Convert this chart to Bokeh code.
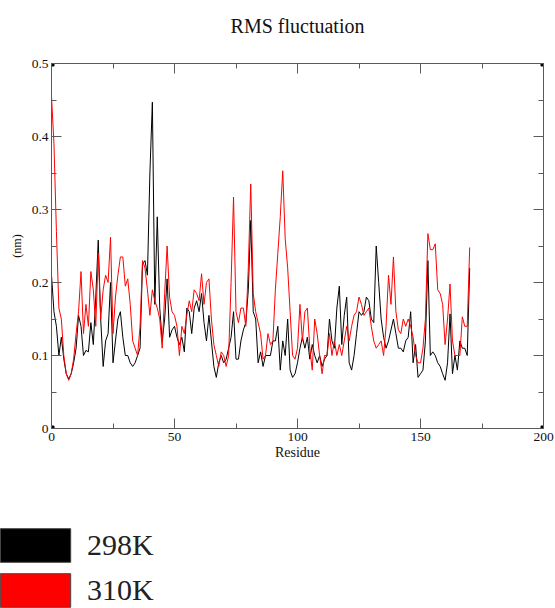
from bokeh.plotting import figure
from bokeh.layouts import column
from bokeh.models import (Range1d, LinearAxis, FixedTicker, Legend, LegendItem,
                          CustomJSTickFormatter)
from bokeh.embed import file_html
from bokeh.resources import INLINE

# ---------------- data ----------------
residue = list(range(0, 171))

rmsf_298K = [
    0.21, 0.16, 0.14, 0.10, 0.125, 0.095, 0.075, 0.068, 0.075, 0.09,
    0.11, 0.155, 0.14, 0.10, 0.107, 0.105, 0.145, 0.115, 0.18, 0.258,
    0.15, 0.085, 0.12, 0.13, 0.20, 0.09, 0.12, 0.15, 0.16, 0.125,
    0.10, 0.10, 0.09, 0.085, 0.09, 0.10, 0.11, 0.225, 0.23, 0.21,
    0.35, 0.447, 0.17, 0.29, 0.165, 0.12, 0.15, 0.205, 0.125, 0.135,
    0.14, 0.125, 0.115, 0.125, 0.105, 0.165, 0.16, 0.13, 0.165, 0.175,
    0.16, 0.185, 0.145, 0.12, 0.155, 0.12, 0.085, 0.07, 0.09, 0.10,
    0.09, 0.095, 0.11, 0.125, 0.16, 0.095, 0.095, 0.12, 0.135, 0.145,
    0.19, 0.285, 0.16, 0.15, 0.09, 0.105, 0.085, 0.10, 0.10, 0.10,
    0.12, 0.12, 0.14, 0.08, 0.12, 0.10, 0.15, 0.08, 0.07, 0.075,
    0.09, 0.11, 0.125, 0.11, 0.125, 0.095, 0.115, 0.10, 0.09, 0.10,
    0.085, 0.095, 0.10, 0.15, 0.12, 0.11, 0.165, 0.195, 0.115, 0.155,
    0.18, 0.09, 0.08, 0.10, 0.13, 0.16, 0.155, 0.16, 0.18, 0.175,
    0.15, 0.145, 0.25, 0.20, 0.15, 0.125, 0.11, 0.12, 0.135, 0.15,
    0.13, 0.11, 0.11, 0.105, 0.12, 0.125, 0.16, 0.09, 0.115, 0.07,
    0.075, 0.08, 0.12, 0.23, 0.10, 0.105, 0.10, 0.09, 0.085, 0.075,
    0.066, 0.09, 0.157, 0.075, 0.10, 0.08, 0.12, 0.11, 0.11, 0.10,
    0.22,
]

rmsf_310K = [
    0.455, 0.39, 0.27, 0.165, 0.15, 0.10, 0.075, 0.066, 0.075, 0.095,
    0.13, 0.16, 0.215, 0.13, 0.17, 0.14, 0.215, 0.19, 0.14, 0.24,
    0.15, 0.19, 0.21, 0.20, 0.262, 0.13, 0.18, 0.21, 0.235, 0.235,
    0.195, 0.205, 0.17, 0.12, 0.11, 0.10, 0.14, 0.23, 0.22, 0.19,
    0.155, 0.19, 0.175, 0.165, 0.15, 0.11, 0.185, 0.25, 0.18, 0.16,
    0.155, 0.14, 0.10, 0.14, 0.13, 0.155, 0.175, 0.16, 0.19, 0.185,
    0.175, 0.212, 0.17, 0.20, 0.205, 0.15, 0.115, 0.10, 0.085, 0.105,
    0.10, 0.085, 0.10, 0.20, 0.317, 0.16, 0.145, 0.165, 0.165, 0.14,
    0.22, 0.335, 0.185, 0.16, 0.145, 0.13, 0.095, 0.10, 0.13, 0.115,
    0.12, 0.19, 0.24, 0.29, 0.353, 0.26, 0.22, 0.16, 0.10, 0.095,
    0.11, 0.17, 0.12, 0.16, 0.165, 0.11, 0.08, 0.15, 0.13, 0.10,
    0.075, 0.10, 0.10, 0.13, 0.10, 0.12, 0.10, 0.115, 0.10, 0.12,
    0.14, 0.12, 0.14, 0.155, 0.16, 0.18, 0.17, 0.155, 0.16, 0.165,
    0.14, 0.12, 0.11, 0.115, 0.12, 0.10, 0.14, 0.21, 0.17, 0.235,
    0.16, 0.135, 0.13, 0.15, 0.14, 0.15, 0.14, 0.125, 0.10, 0.09,
    0.09, 0.11, 0.15, 0.267, 0.245, 0.245, 0.253, 0.19, 0.185, 0.17,
    0.115, 0.15, 0.198, 0.12, 0.10, 0.10, 0.10, 0.153, 0.14, 0.14,
    0.248,
]

series_labels = ["298K", "310K"]
series_colors = ["#000000", "#ff0000"]

x_limits = [0, 200]
y_limits = [0, 0.5]
x_ticks = [0, 50, 100, 150, 200]
x_minor_ticks = [25, 75, 125, 175]
y_ticks = [0, 0.1, 0.2, 0.3, 0.4, 0.5]
y_tick_labels = ["0", "0.1", "0.2", "0.3", "0.4", "0.5"]
y_minor_ticks = [0.05, 0.15, 0.25, 0.35, 0.45]

title_text = "RMS fluctuation"
x_label = "Residue"
y_label = "(nm)"

# ---------------- style ----------------
SERIF = "Liberation Serif"
AXC = "#5a5a5a"

# ---------------- title strip ----------------
tf = figure(
    width=555, height=50,
    x_range=Range1d(0, 1), y_range=Range1d(0, 1),
    output_backend="svg", toolbar_location=None,
    x_axis_location=None, y_axis_location=None,
    title=title_text,
    min_border_left=51, min_border_right=12, min_border_top=0, min_border_bottom=0,
)
tf.outline_line_color = None
tf.grid.visible = False
tf.background_fill_color = "white"
tf.border_fill_color = "white"
tf.title.text_font = SERIF
tf.title.text_font_size = "20px"
tf.title.text_font_style = "normal"
tf.title.text_color = "#111111"
tf.title.align = "center"
tf.title.standoff = 24

# ---------------- main graph ----------------
p = figure(
    width=555, height=455,
    x_range=Range1d(*x_limits), y_range=Range1d(*y_limits),
    output_backend="svg", toolbar_location=None,
    min_border_left=51, min_border_right=12,
    min_border_top=13, min_border_bottom=77,
)
p.background_fill_color = "white"
p.border_fill_color = "white"
p.outline_line_color = AXC
p.outline_line_width = 1
p.grid.visible = False


def style_axis(ax):
    ax.axis_line_color = AXC
    ax.major_tick_line_color = AXC
    ax.minor_tick_line_color = AXC
    ax.major_tick_in = 10
    ax.major_tick_out = 0
    ax.minor_tick_in = 5
    ax.minor_tick_out = 0
    ax.major_label_text_font = SERIF
    ax.major_label_text_font_size = "13.5px"
    ax.major_label_text_color = "#111111"
    ax.axis_label_text_font = SERIF
    ax.axis_label_text_font_style = "normal"
    ax.axis_label_text_color = "#111111"


xa = p.xaxis[0]
style_axis(xa)
xa.ticker = FixedTicker(ticks=x_ticks, minor_ticks=x_minor_ticks)
xa.axis_label = x_label
xa.axis_label_text_font_size = "14px"
xa.major_label_standoff = 4
xa.axis_label_standoff = 1

ya = p.yaxis[0]
style_axis(ya)
ya.ticker = FixedTicker(ticks=y_ticks, minor_ticks=y_minor_ticks)
ya.major_label_overrides = dict(zip(y_ticks, y_tick_labels))
ya.axis_label = y_label
ya.axis_label_text_font_size = "12px"
ya.major_label_standoff = 3
ya.axis_label_standoff = 5

blank = CustomJSTickFormatter(code="return ''")
top_ax = LinearAxis(ticker=FixedTicker(ticks=x_ticks, minor_ticks=x_minor_ticks),
                    formatter=blank)
right_ax = LinearAxis(ticker=FixedTicker(ticks=y_ticks, minor_ticks=y_minor_ticks),
                      formatter=blank)
for ax in (top_ax, right_ax):
    style_axis(ax)
    ax.major_label_text_font_size = "0px"
    ax.major_label_standoff = 0
p.add_layout(top_ax, "above")
p.add_layout(right_ax, "right")

# data lines (black first, red on top)
p.line(residue, rmsf_298K, line_color=series_colors[0], line_width=1)
p.line(residue, rmsf_310K, line_color=series_colors[1], line_width=1)

# small square markers at the four corners of the graph box
p.scatter(x=[x_limits[0], x_limits[0], x_limits[1], x_limits[1]],
          y=[y_limits[0], y_limits[1], y_limits[0], y_limits[1]],
          marker="square", size=5, fill_color="black", line_color="black")

# ---------------- legend (own strip below the graph) ----------------
lg = figure(
    width=555, height=103,
    x_range=Range1d(0, 1), y_range=Range1d(0, 1),
    output_backend="svg", toolbar_location=None,
    x_axis_location=None, y_axis_location=None,
    min_border_left=0, min_border_right=0, min_border_top=0, min_border_bottom=0,
)
lg.outline_line_color = None
lg.grid.visible = False
lg.background_fill_color = "white"
lg.border_fill_color = "white"

nan = float("nan")
swatches = []
for c in series_colors:
    q = lg.quad(left=[nan], right=[nan], top=[nan], bottom=[nan],
                fill_color=c, line_color="#444444", line_width=1)
    swatches.append(q)

legend = Legend(
    items=[LegendItem(label=lab, renderers=[r]) for lab, r in zip(series_labels, swatches)],
    location=(-9, -3),
    orientation="vertical",
    glyph_width=88, glyph_height=42,
    spacing=3, padding=0, margin=0,
    label_standoff=8,
    label_text_font=SERIF, label_text_font_size="30px",
    label_text_color="#222222",
    border_line_color=None, background_fill_alpha=0,
)
lg.add_layout(legend, "center")

layout = column(tf, p, column(lg, spacing=0), spacing=0)
open("out.html", "w").write(file_html(layout, INLINE))
